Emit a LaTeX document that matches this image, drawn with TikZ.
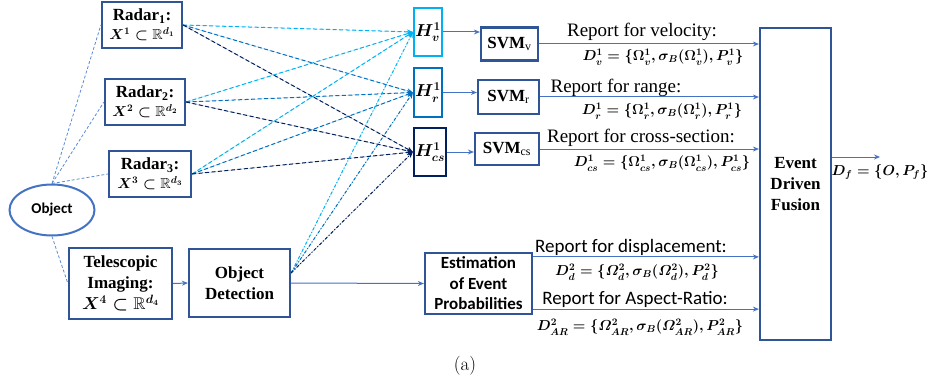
\documentclass[tikz,border=0pt]{standalone}
\usepackage{amsmath,amssymb,bm}
\usepackage{fontspec}
\setmainfont{Liberation Serif}
\newfontfamily\carlito{Carlito}
\usetikzlibrary{arrows.meta,shapes.geometric,calc}

\definecolor{boxblue}{HTML}{2F5597}
\definecolor{flowblue}{HTML}{4472C4}
\definecolor{linkblue}{HTML}{5B8BD6}
\definecolor{hypvcol}{HTML}{00B0F0}
\definecolor{hyprcol}{HTML}{0070C0}
\definecolor{hypcscol}{HTML}{002060}

% bold math set inside its own group
\newcommand{\bmath}[1]{{\boldmath$#1$}}

\tikzset{
  box/.style={draw=boxblue, line width=2.2pt, fill=white, inner sep=0pt,
    align=center, font=\bfseries\fontsize{17}{21}\selectfont},
  hypbox/.style={line width=2.2pt, fill=white, inner sep=0pt,
    font=\fontsize{17}{20}\selectfont},
  flow/.style={draw=flowblue, line width=1pt, -{Stealth[length=6pt,width=5pt]}},
  feed/.style={line width=1pt, dash pattern=on 4pt off 2.5pt,
    -{Stealth[length=6pt,width=5pt]}},
  tap/.style={line width=1pt, dash pattern=on 3pt off 2pt on 1pt off 2pt,
    -{Stealth[length=6pt,width=5pt]}},
  link/.style={draw=linkblue, line width=0.8pt, dash pattern=on 3pt off 2pt},
  lbl/.style={inner sep=0pt},
  rtext/.style={lbl, font=\fontsize{19}{22}\selectfont},
  ctext/.style={lbl, font=\carlito\fontsize{19}{22}\selectfont},
  mtext/.style={lbl, font=\fontsize{14.5}{17}\selectfont},
}

\begin{document}
\begin{tikzpicture}[x=1pt,y=-1pt]
\useasboundingbox (0,0) rectangle (928,385);

% sensors
\node[box, minimum width=80pt, minimum height=46pt] (r1) at (142,25)
  {Radar\textsubscript{1}:\\[-2pt]{\fontsize{14.5}{16}\selectfont\bmath{X^{1}\subset\mathbb{R}^{d_1}}}};
\node[box, minimum width=80pt, minimum height=46pt] (r2) at (145,102)
  {Radar\textsubscript{2}:\\[-2pt]{\fontsize{14.5}{16}\selectfont\bmath{X^{2}\subset\mathbb{R}^{d_2}}}};
\node[box, minimum width=82pt, minimum height=46pt] (r3) at (150,174)
  {Radar\textsubscript{3}:\\[-2pt]{\fontsize{14.5}{16}\selectfont\bmath{X^{3}\subset\mathbb{R}^{d_3}}}};
\node[ellipse, draw=flowblue, line width=2pt, fill=white, minimum width=85pt,
  minimum height=51pt, inner sep=0pt, font=\carlito\bfseries\fontsize{15}{17}\selectfont]
  (obj) at (52,210) {Object};
\node[box, minimum width=103pt, minimum height=71pt] (tele) at (120.5,283.5)
  {Telescopic\\Imaging:\\\bmath{X^{4}\subset\mathbb{R}^{d_4}}};
\node[box, minimum width=101pt, minimum height=68pt] (det) at (239.5,283)
  {Object\\Detection};

% event hypotheses
\node[hypbox, draw=hypvcol, minimum width=28pt, minimum height=48pt] (hypv) at (428,32) {\bmath{H^{1}_{v}}};
\node[hypbox, draw=hyprcol, minimum width=28pt, minimum height=49pt] (hypr) at (428,92.5) {\bmath{H^{1}_{r}}};
\node[hypbox, draw=hypcscol, minimum width=32pt, minimum height=48pt] (hypcs) at (430,152) {\bmath{H^{1}_{cs}}};

% classifiers
\node[box, minimum width=57pt, minimum height=33pt] (svmv) at (509.5,44)
  {SVM\textsubscript{\mdseries v}};
\node[box, minimum width=61pt, minimum height=34pt] (svmr) at (508.5,97)
  {SVM\textsubscript{\mdseries r}};
\node[box, minimum width=64pt, minimum height=32pt] (svmcs) at (507,149)
  {SVM\textsubscript{\mdseries cs}};

\node[box, font=\carlito\bfseries\fontsize{17}{20.5}\selectfont,
  minimum width=107pt, minimum height=61pt] (est) at (478.5,283.5)
  {Estimation\\of Event\\Probabilities};

\node[box, minimum width=71pt, minimum height=312pt] (fus) at (795.5,184)
  {Event\\Driven\\Fusion};

% object to sensors
\draw[link] (obj.north) -- (r1.west);
\draw[link] (obj.north) -- (r2.west);
\draw[link] (obj.north) -- (r3.west);
\draw[link] (obj.south) -- (tele.west);

% radar features to hypotheses
\foreach \r in {r1,r2,r3}{
  \draw[feed, draw=hypvcol, fill=hypvcol] (\r.east) -- (hypv.west);
  \draw[feed, draw=hyprcol, fill=hyprcol] (\r.east) -- (hypr.west);
  \draw[feed, draw=hypcscol, fill=hypcscol] (\r.east) -- (hypcs.west);
}

% image detections to hypotheses
\coordinate (dettap) at ([yshift=10pt]det.east);
\draw[tap, draw=hypvcol, fill=hypvcol] (dettap) -- (hypv.west);
\draw[tap, draw=hyprcol, fill=hyprcol] (dettap) -- (hypr.west);
\draw[tap, draw=hypcscol, fill=hypcscol] (dettap) -- (hypcs.west);

% processing chain
\draw[flow] (tele.east) -- (det.west);
\draw[flow] (det.east) -- (est.west);
\draw[flow] (hypv.east) -- (hypv.east -| svmv.west);
\draw[flow] (hypr.east) -- (hypr.east -| svmr.west);
\draw[flow] (hypcs.east) -- (hypcs.east -| svmcs.west);
\draw[flow] (svmv.east) -- (svmv.east -| fus.west);
\draw[flow] (svmr.east) -- (svmr.east -| fus.west);
\draw[flow] (svmcs.east) -- (svmcs.east -| fus.west);
\coordinate (e1) at ([yshift=-5pt]est.north east);
\coordinate (e2) at ([yshift=6pt]est.south east);
\draw[flow] (e1) -- (e1 -| fus.west);
\draw[flow] (e2) -- (e2 -| fus.west);
\coordinate (dfend) at (880,157);
\draw[flow] (fus.east |- dfend) -- (dfend);

% reports
\node[rtext] (l1) at (642,32) {Report for velocity:};
\node[mtext] (m1) at (663,57)
  {\bmath{D_v^{1}=\{\Omega_v^{1},\sigma_B(\Omega_v^{1}),P_v^{1}\}}};
\node[rtext] (l2) at (616,88) {Report for range:};
\node[mtext] (m2) at (662,111)
  {\bmath{D_r^{1}=\{\Omega_r^{1},\sigma_B(\Omega_r^{1}),P_r^{1}\}}};
\node[rtext] (l3) at (641,138) {Report for cross-section:};
\node[mtext] (m3) at (662,163)
  {\bmath{D_{cs}^{1}=\{\Omega_{cs}^{1},\sigma_B(\Omega_{cs}^{1}),P_{cs}^{1}\}}};
\node[ctext] (l4) at (631,247) {Report for displacement:};
\node[mtext] (m4) at (637,272)
  {\bmath{D_d^{2}=\{\varOmega_d^{2},\sigma_B(\varOmega_d^{2}),P_d^{2}\}}};
\node[ctext] (l5) at (635,299) {Report for Aspect-Ratio:};
\node[mtext] (m5) at (640,327)
  {\bmath{D_{AR}^{2}=\{\varOmega_{AR}^{2},\sigma_B(\varOmega_{AR}^{2}),P_{AR}^{2}\}}};
\node[mtext] (mf) at (880,172) {\bmath{D_f=\{O,P_f\}}};

\node[lbl, font=\fontspec{Latin Modern Roman}\fontsize{19}{22}\selectfont] (cap) at (465,366) {(a)};
\end{tikzpicture}
\end{document}
